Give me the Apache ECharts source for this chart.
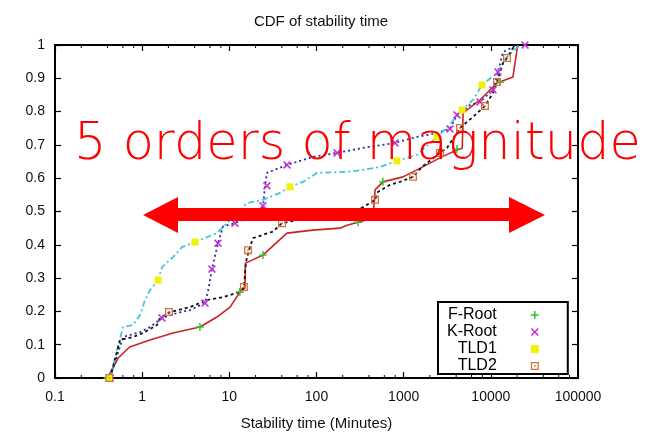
<!DOCTYPE html>
<html>
<head>
<meta charset="utf-8">
<script src="https://cdn.jsdelivr.net/npm/echarts@6/dist/echarts.min.js"></script>
<style>html,body{margin:0;padding:0;background:#fff}#c{width:648px;height:432px}</style>
</head>
<body>
<div id="c"></div>
<script>
// ---- data (x = stability time in minutes, y = CDF) ----
const seriesNames = ['F-Root', 'K-Root', 'TLD1', 'TLD2'];
const xTickLabels = ['0.1', '1', '10', '100', '1000', '10000', '100000'];
const minorTickValues = [0.2,0.4,0.6,0.8, 2,4,6,8, 20,40,60,80, 200,400,600,800, 2000,4000,6000,8000, 20000,40000,60000,80000];

const fRootLine = [[0.40,0],[0.53,0.06],[0.72,0.093],[1.23,0.114],[2.26,0.135],[4.6,0.153],[7.2,0.183],[10.2,0.213],[13.2,0.258],[15.1,0.27],[15.3,0.345],[24.3,0.369],[45.8,0.435],[91,0.444],[186,0.45],[224,0.459],[299,0.468],[445,0.48],[460,0.48],[470,0.565],[579,0.589],[982,0.604],[1420,0.625],[2610,0.661],[4090,0.685],[4700,0.69],[4800,0.796],[7510,0.835],[11770,0.886],[17950,0.904],[19950,0.985],[20470,1]];
const fRootPts = [[0.40,0],[4.6,0.153],[13.2,0.258],[24.3,0.369],[299,0.468],[579,0.589],[4090,0.688],[12740,0.889]];

const kRootLine = [[0.428,0],[0.603,0.123],[0.944,0.138],[1.23,0.153],[1.69,0.18],[2.51,0.195],[3.54,0.204],[5.26,0.225],[5.69,0.26],[6.32,0.327],[7.41,0.405],[8.46,0.455],[11.6,0.465],[15.9,0.48],[24.3,0.513],[25.6,0.573],[27.0,0.616],[45.8,0.64],[91,0.664],[172,0.676],[341,0.691],[795,0.706],[1420,0.724],[2170,0.733],[3400,0.748],[4090,0.79],[5770,0.82],[7510,0.829],[10590,0.865],[12080,0.919],[13780,0.979],[19950,1]];
const kRootPts = [[0.43,0],[1.69,0.18],[5.26,0.225],[6.32,0.327],[7.41,0.405],[11.6,0.465],[24.3,0.517],[27.0,0.577],[45.8,0.64],[172,0.676],[795,0.706],[3400,0.748],[4090,0.79],[7510,0.829],[10590,0.865],[12080,0.919],[24660,1]];

const tld1Line = [[0.428,0],[0.603,0.153],[0.785,0.159],[0.944,0.189],[1.078,0.234],[1.23,0.264],[1.52,0.294],[1.69,0.333],[2.26,0.363],[2.86,0.393],[4.04,0.408],[5.54,0.423],[7.2,0.435],[10.2,0.474],[15.9,0.525],[24.3,0.535],[38.1,0.556],[49.7,0.574],[70,0.589],[101,0.616],[224,0.619],[341,0.625],[535,0.634],[838,0.652],[1420,0.67],[2410,0.724],[3140,0.751],[4670,0.805],[6240,0.835],[7930,0.88],[11770,0.916],[15320,0.964],[21600,1]];
const tld1Pts = [[0.42,0],[1.52,0.294],[4.04,0.408],[49.7,0.574],[838,0.652],[2410,0.724],[4670,0.805],[7930,0.88]];

const tld2Line = [[0.428,0],[0.557,0.114],[0.785,0.123],[1.022,0.135],[1.48,0.159],[1.60,0.18],[2.09,0.198],[3.54,0.213],[5.54,0.234],[8.46,0.243],[13.2,0.258],[14.7,0.273],[15.5,0.348],[16.8,0.384],[18.7,0.42],[31.7,0.44],[40.2,0.465],[59.7,0.474],[119,0.483],[224,0.495],[341,0.513],[469,0.535],[507,0.559],[697,0.58],[907,0.589],[1280,0.604],[1622,0.634],[2610,0.676],[3140,0.691],[4430,0.751],[6240,0.784],[8570,0.817],[10590,0.856],[11770,0.889],[13780,0.946],[15320,0.961],[17950,0.991],[19950,1]];
const tld2Pts = [[0.42,0],[2.03,0.198],[14.7,0.273],[16.4,0.384],[40.2,0.465],[469,0.535],[1280,0.604],[2610,0.676],[4430,0.751],[8570,0.817],[11770,0.889],[15320,0.961]];

// ---- styles ----
const FONT = 'Liberation Sans, Arial, sans-serif';
const SYM_PLUS = 'path://M4.1,0H5.9V4.1H10V5.9H5.9V10H4.1V5.9H0V4.1H4.1Z';
const SYM_X = 'path://M0,1.4L1.4,0L5,3.6L8.6,0L10,1.4L6.4,5L10,8.6L8.6,10L5,6.4L1.4,10L0,8.6L3.6,5Z';
const SYM_SQ = 'path://M0,0H10V10H0Z';
const SYM_OSQ = 'path://M0,0H10V10H0Z M1.6,1.6V8.4H8.4V1.6Z M4,4H6V6H4Z';

function lineSeries(data, color, type, width) {
  return { type: 'line', data: data, showSymbol: false, symbol: 'none', smooth: false,
    lineStyle: { color: color, width: width, type: type }, z: 3, silent: true, legendHoverLink: false };
}
function ptSeries(name, data, sym, color, size) {
  return { name: name, type: 'scatter', data: data, symbol: sym, symbolSize: size,
    itemStyle: { color: color, opacity: 1 }, z: 5 };
}

const axisCommon = {
  axisLine: { show: true, onZero: false, lineStyle: { color: '#000', width: 2 } },
  splitLine: { show: false },
};

const chart = echarts.init(document.getElementById('c'), null, { renderer: 'canvas' });
chart.setOption({
  animation: false,
  backgroundColor: '#fff',
  title: { text: 'CDF of stability time', left: 316, top: 9, textAlign: 'center',
    textStyle: { fontFamily: FONT, fontSize: 15, fontWeight: 'normal', color: '#111' } },
  grid: { left: 55, right: 70, top: 45, bottom: 54, containLabel: false, outerBoundsMode: 'none' },
  xAxis: [
    Object.assign({ type: 'log', logBase: 10, min: 0.1, max: 100000, position: 'bottom',
      name: 'Stability time (Minutes)', nameLocation: 'middle', nameGap: 38,
      nameTextStyle: { fontFamily: FONT, fontSize: 15, color: '#111' },
      axisTick: { show: true, inside: true, length: 6, lineStyle: { color: '#000', width: 1.2 } },
      minorTick: { show: false },
      axisLabel: { fontFamily: FONT, fontSize: 14, color: '#111', margin: 12,
        formatter: function (v) { const i = Math.round(Math.log10(v)) + 1; return xTickLabels[i] !== undefined ? xTickLabels[i] : ''; } }
    }, axisCommon),
    Object.assign({ type: 'log', logBase: 10, min: 0.1, max: 100000, position: 'top',
      axisTick: { show: true, inside: true, length: 6, lineStyle: { color: '#000', width: 1.2 } },
      axisLabel: { show: false }
    }, axisCommon)
  ],
  yAxis: [
    Object.assign({ type: 'value', min: 0, max: 1, interval: 0.1, position: 'left',
      axisTick: { show: true, inside: true, length: 6, lineStyle: { color: '#000', width: 1.2 } },
      axisLabel: { fontFamily: FONT, fontSize: 14, color: '#111', margin: 10,
        formatter: function (v) { return String(Math.round(v * 10) / 10); } }
    }, axisCommon),
    Object.assign({ type: 'value', min: 0, max: 1, interval: 0.1, position: 'right',
      axisTick: { show: true, inside: true, length: 6, lineStyle: { color: '#000', width: 1.2 } },
      axisLabel: { show: false }
    }, axisCommon)
  ],
  legend: {
    data: seriesNames, orient: 'vertical', align: 'right',
    left: 438, top: 302, padding: [5, 29, 0, 9], itemGap: 1,
    itemWidth: 66, itemHeight: 8, selectedMode: false,
    backgroundColor: '#fff', borderColor: '#000', borderWidth: 2, borderRadius: 0,
    textStyle: { fontFamily: FONT, fontSize: 16, color: '#000', lineHeight: 15 }
  },
  series: [
    { type: 'custom', coordinateSystem: 'cartesian2d', silent: true, z: 2,
      data: minorTickValues.map(function (v) { return [v, 0]; }),
      encode: { x: 0, y: 1 },
      renderItem: function (params, api) {
        const b = api.coord([api.value(0), 0]);
        const t = api.coord([api.value(0), 1]);
        const st = { stroke: '#000', lineWidth: 1 };
        return { type: 'group', children: [
          { type: 'line', shape: { x1: b[0], y1: b[1], x2: b[0], y2: b[1] - 3 }, style: st },
          { type: 'line', shape: { x1: t[0], y1: t[1], x2: t[0], y2: t[1] + 3 }, style: st }
        ] };
      }
    },
    lineSeries(fRootLine, '#cc2222', 'solid', 1.6),
    lineSeries(kRootLine, '#2a2aa8', [2, 3], 1.8),
    lineSeries(tld1Line, '#3ec8d2', [6, 3, 2, 3], 1.8),
    lineSeries(tld2Line, '#111', [3, 3], 1.8),
    ptSeries('F-Root', fRootPts, SYM_PLUS, '#2ec22e', 8),
    ptSeries('K-Root', kRootPts, SYM_X, '#c62ed6', 8),
    ptSeries('TLD1', tld1Pts, SYM_SQ, '#f2f200', 7),
    ptSeries('TLD2', tld2Pts, SYM_OSQ, '#d4723e', 8)
  ],
  graphic: [
    { type: 'polygon', z: 100, silent: true,
      shape: { points: [[143,215],[178,197],[178,208],[509,208],[509,197],[545,215],[509,233],[509,221],[178,221],[178,233]] },
      style: { fill: '#ff0000' } },
    { type: 'text', z: 100, silent: true, x: 74, y: 146,
      style: { text: '5 orders of magnitude', fill: '#ff0000', font: '200 51px "DejaVu Sans"', verticalAlign: 'middle', align: 'left' } }
  ]
});
</script>
</body>
</html>
